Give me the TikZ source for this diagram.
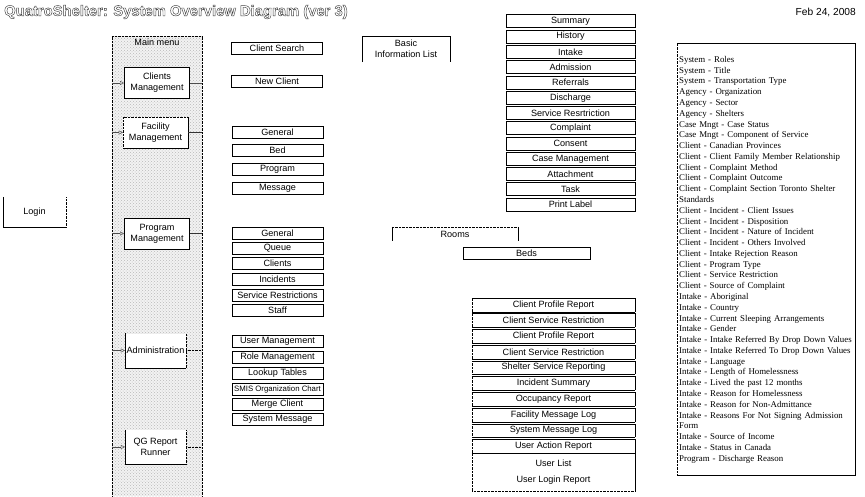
\documentclass[tikz,border=0pt]{standalone}
\usepackage{fontspec}
\setmainfont{Liberation Sans}
\newfontfamily\listfont{Liberation Serif}
\usetikzlibrary{arrows.meta,patterns}
\newcommand{\outlined}[1]{\special{pdf:literal direct 1 Tr 0.45 w}#1\special{pdf:literal direct 0 Tr}}

\begin{document}
\begin{tikzpicture}[x=1pt,y=-1pt,
  every node/.style={font=\fontsize{9.1}{11}\selectfont, inner sep=0pt},
  module/.style={draw, line width=1pt, fill=white, align=center, minimum width=65, minimum height=31},
  softmod/.style={fill=white, align=center, minimum width=61, minimum height=34},
  item/.style={draw, minimum width=91, minimum height=12},
  tab/.style={draw, minimum width=129, minimum height=13},
  report/.style={minimum width=163, minimum height=13,
    append after command={
      (\tikzlastnode.north west) edge (\tikzlastnode.north east)
      (\tikzlastnode.north east) edge (\tikzlastnode.south east)
      (\tikzlastnode.south east) edge (\tikzlastnode.south west)
      (\tikzlastnode.south west) edge[densely dotted] (\tikzlastnode.north west)}},
  menulink/.style={draw=black!70, -{Triangle[open,length=4pt,width=4pt]}},
  outlink/.style={draw=black!80, line width=1pt}]
\useasboundingbox (0,0) rectangle (865,496);

\node[anchor=west, font=\bfseries\fontsize{14.8}{16}\selectfont, text=black!75] (title) at (4,12) {\outlined{QuatroShelter: System Overview Diagram (ver 3)}};
\node[anchor=east, font=\fontsize{10.2}{12}\selectfont] (date) at (856,12) {Feb 24, 2008};

\node[preaction={fill=gray!10}, pattern=crosshatch dots, pattern color=gray!55, minimum width=90, minimum height=460] (menu) at (157,266) {};
\draw[densely dotted] (menu.south west) -- (menu.north west) -- (menu.north east) -- (menu.south east);
\node (menutitle) at (157,42) {Main menu};

\node[module] (cm) at (157,83) {Clients\\Management};
\node[softmod, minimum width=65, minimum height=31] (fm) at (155.5,132.5) {Facility\\Management};
\node[module] (pm) at (157,233.5) {Program\\Management};
\node[softmod] (adm) at (155.5,350.5) {Administration};
\node[softmod] (qg) at (155.5,447) {QG Report\\Runner};
\draw[densely dotted] (fm.south west) -- (fm.north west) -- (fm.north east);
\draw[line width=1pt] (fm.north east) -- (fm.south east) -- (fm.south west);
\draw (adm.north west) -- (adm.south west) -- (adm.south east);
\draw[densely dotted] (adm.south east) -- (adm.north east);
\draw (qg.north west) -- (qg.south west) -- (qg.south east);
\draw[densely dotted] (qg.south east) -- (qg.north east);

\draw[menulink] (menu.west |- cm) -- (cm);
\draw[menulink] (menu.west |- fm) -- (fm);
\draw[menulink] (menu.west |- pm) -- (pm);
\draw[menulink] (menu.west |- adm) -- (adm);
\draw[menulink] (menu.west |- qg) -- (qg);
\draw[draw=black!70] (cm.east) -- (cm.east -| menu.east);
\draw[outlink] (fm.east) -- (fm.east -| menu.east);
\draw[outlink, line width=1.6pt] (pm.east) -- (pm.east -| menu.east);
\draw[densely dotted] (adm.east) -- (adm.east -| menu.east);
\draw[densely dotted] (qg.east) -- (qg.east -| menu.east);

\node[minimum width=63, minimum height=30] (login) at (34.5,212) {Login};
\draw (login.north west) -- (login.south west) -- (login.south east);
\draw[densely dotted] (login.south east) -- (login.north east);

\node[item] (search) at (277,48) {Client Search};
\node[item] (newcl) at (277,81) {New Client};
\node[item] (fgen) at (277.5,132) {General};
\node[item] (fbed) at (277.5,150.5) {Bed};
\node[item] (fprog) at (277.5,169) {Program};
\node[item] (fmsg) at (277.5,188) {Message};
\node[item] (pgen) at (277.5,233) {General};
\node[item] (pque) at (277.5,248) {Queue};
\node[item] (pcli) at (277.5,263) {Clients};
\node[item] (pinc) at (277.5,279) {Incidents};
\node[item] (pres) at (277.5,295) {Service Restrictions};
\node[item] (pstf) at (277.5,310) {Staff};
\node[item] (auser) at (277.5,341) {User Management};
\node[item] (arole) at (277.5,357) {Role Management};
\node[item] (alook) at (277.5,373) {Lookup Tables};
\node[item, font=\fontsize{7.8}{10}\selectfont] (asmis) at (277.5,389) {SMIS Organization Chart};
\node[item] (amerge) at (277.5,404) {Merge Client};
\node[item] (asys) at (277.5,419) {System Message};

\node[align=center, minimum width=88, minimum height=26] (basic) at (406,49) {Basic\\Information List};
\draw (basic.south west) -- (basic.north west) -- (basic.north east) -- (basic.south east);

\node[minimum width=126, minimum height=14] (rooms) at (455,234) {Rooms};
\draw[densely dotted] (rooms.north west) -- (rooms.north east);
\draw (rooms.north west) -- (rooms.south west);
\draw (rooms.north east) -- (rooms.south east);
\node[draw, minimum width=127, minimum height=12] (beds) at (526.5,253) {Beds};

\node[tab] (summ) at (570.5,21) {Summary};
\node[tab] (hist) at (570.5,36.5) {History};
\node[tab] (intk) at (570.5,52) {Intake};
\node[tab] (adms) at (570.5,67) {Admission};
\node[tab] (refs) at (570.5,82.5) {Referrals};
\node[tab] (disc) at (570.5,98) {Discharge};
\node[tab] (srest) at (570.5,113) {Service Resrtriction};
\node[tab] (compl) at (570.5,128) {Complaint};
\node[tab] (cons) at (570.5,143.5) {Consent};
\node[tab] (casem) at (570.5,159) {Case Management};
\node[tab] (attach) at (570.5,174) {Attachment};
\node[tab] (task) at (570.5,189) {Task};
\node[tab] (label) at (570.5,204.5) {Print Label};

\node[report] (rprof) at (553.5,305) {Client Profile Report};
\node[report] (rserv) at (553.5,320) {Client Service Restriction};
\node[report] (rprof2) at (553.5,336) {Client Profile Report};
\node[report] (rserv2) at (553.5,352) {Client Service Restriction};
\node[report] (rshel) at (553.5,367.5) {Shelter Service Reporting};
\node[report] (rinc) at (553.5,383) {Incident Summary};
\node[report] (rocc) at (553.5,399) {Occupancy Report};
\node[report] (rfml) at (553.5,415) {Facility Message Log};
\node[report] (rsml) at (553.5,430.5) {System Message Log};
\node[report] (ruar) at (553.5,446) {User Action Report};
\node[align=center, minimum width=163, minimum height=38] (rusers) at (553.5,472) {User List\\[5pt]User Login Report};
\draw (rusers.north west) -- (rusers.north east) -- (rusers.south east);
\draw[densely dotted] (rusers.south east) -- (rusers.south west) -- (rusers.north west);

\node[minimum width=178, minimum height=432, anchor=north west] (lkframe) at (677,43) {};
\draw (lkframe.north west) -- (lkframe.north east);
\draw[line width=0.9pt] (lkframe.north east) -- (lkframe.south east) -- (lkframe.south west);
\draw[densely dotted] (lkframe.south west) -- (lkframe.north west);
\node[anchor=north west, text width=176, align=left, font=\listfont\fontsize{8.85}{10.78}\selectfont] (lookup) at (679,56) {System - Roles\\
System - Title\\
System - Transportation Type\\
Agency - Organization\\
Agency - Sector\\
Agency - Shelters\\
Case Mngt - Case Status\\
Case Mngt - Component of Service\\
Client - Canadian Provinces\\
Client - Client Family Member Relationship\\
Client - Complaint Method\\
Client - Complaint Outcome\\
Client - Complaint Section Toronto Shelter\\
Standards\\
Client - Incident - Client Issues\\
Client - Incident - Disposition\\
Client - Incident - Nature of Incident\\
Client - Incident - Others Involved\\
Client - Intake Rejection Reason\\
Client - Program Type\\
Client - Service Restriction\\
Client - Source of Complaint\\
Intake - Aboriginal\\
Intake - Country\\
Intake - Current Sleeping Arrangements\\
Intake - Gender\\
Intake - Intake Referred By Drop Down Values\\
Intake - Intake Referred To Drop Down Values\\
Intake - Language\\
Intake - Length of Homelessness\\
Intake - Lived the past 12 months\\
Intake - Reason for Homelessness\\
Intake - Reason for Non-Admittance\\
Intake - Reasons For Not Signing Admission\\
Form\\
Intake - Source of Income\\
Intake - Status in Canada\\
Program - Discharge Reason};
\end{tikzpicture}
\end{document}
